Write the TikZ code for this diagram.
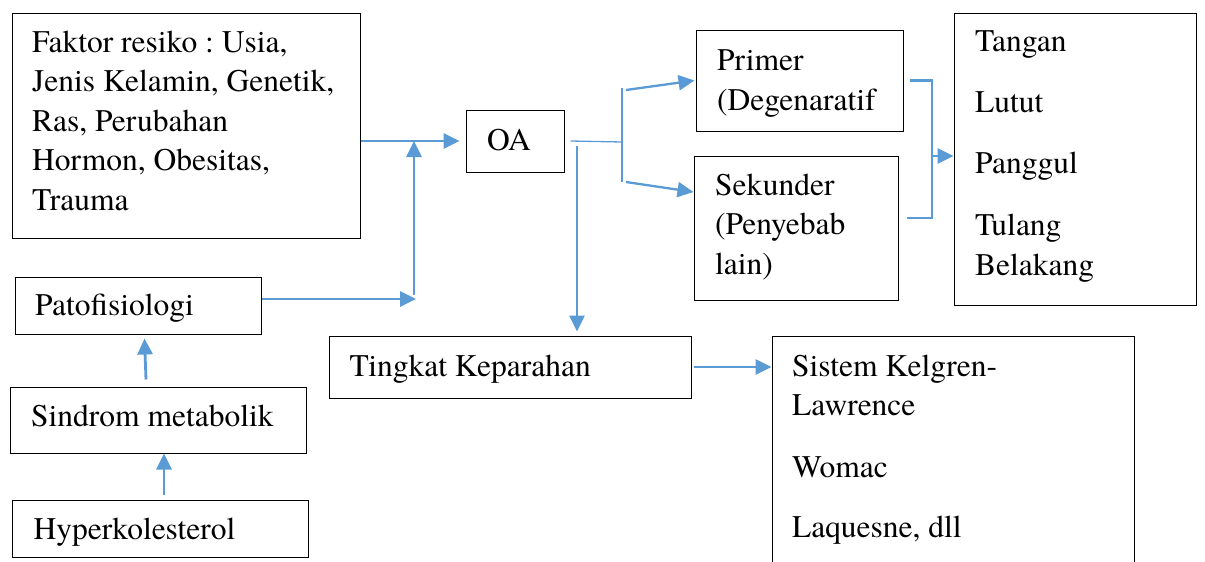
\documentclass[tikz,border=0pt]{standalone}
\usepackage{fontspec}
\setmainfont{TeX Gyre Termes}
\usetikzlibrary{arrows.meta}
\frenchspacing

\definecolor{oablue}{RGB}{91,155,213}

\tikzset{
  box/.style 2 args={draw=black, line width=1pt, inner sep=0pt, minimum width=#1, minimum height=#2},
  txt/.style={anchor=base west, inner sep=0pt, align=left, font=\rmfamily\fontsize{31.5}{39.5}\selectfont},
  flow/.style={draw=oablue, line width=2.8pt, -{Triangle[length=16pt,width=15pt]}},
  bracket/.style={draw=oablue, line width=2.8pt},
  thinline/.style={draw=oablue, line width=1.3pt}
}

\begin{document}
\begin{tikzpicture}[x=1pt,y=-1pt]
  \clip (0,0) rectangle (1205,562);

  % boxes
  \node[box={348}{225}] (risk) at (186,125.5) {};
  \node[box={98}{62}] (oa) at (515,141) {};
  \node[box={207}{101}] (primer) at (799.5,80.5) {};
  \node[box={204}{144}] (sekunder) at (796,228) {};
  \node[box={242}{292}] (tangan) at (1075,159) {};
  \node[box={246}{57}] (pato) at (138,305.5) {};
  \node[box={296}{66}] (sindrom) at (158,420) {};
  \node[box={296}{57}] (hyper) at (160,528.5) {};
  \node[box={362}{62}] (tingkat) at (510,367) {};
  \node[box={362}{264}] (kelgren) at (953,468) {};

  % texts (base = last line)
  \node[txt] (riskT) at (32,210) {Faktor resiko : Usia,\\ Jenis Kelamin, Genetik,\\ Ras, Perubahan\\ Hormon, Obesitas,\\ Trauma};
  \node[txt] (oaT) at (487,150) {OA};
  \node[txt] (primerT) at (717,110) {Primer\\ (Degenaratif};
  \node[txt] (sekunderT) at (715,274) {Sekunder\\ (Penyebab\\ lain)};
  \node[txt] (tanganT) at (975,275) {Tangan\\[21.5pt] Lutut\\[21pt] Panggul\\[23pt] Tulang\\ Belakang};
  \node[txt] (patoT) at (35,315) {Patofisiologi};
  \node[txt] (sindromT) at (31,426) {Sindrom metabolik};
  \node[txt] (hyperT) at (33.5,539) {Hyperkolesterol};
  \node[txt] (tingkatT) at (349.5,376) {Tingkat Keparahan};
  \node[txt] (kelgrenT) at (792,537) {Sistem Kelgren-\\ Lawrence\\[22pt] Womac\\[20.5pt] Laquesne, dll};

  % connectors
  \coordinate (merge) at (414,299);
  \coordinate (fork) at (622,142);
  \coordinate (drop) at (577,146);
  \coordinate (hub) at (932,156);

  \draw[flow] (risk.east |- oa.west) -- ([xshift=-6pt]oa.west);
  \draw[flow] ([yshift=6.5pt]pato.east) -- ([xshift=2pt]merge);
  \draw[flow] ([yshift=4pt]merge) -- (merge |- oa.west);

  \draw[thinline] ([xshift=6pt]oa.east) -- (fork);
  \draw[thinline] ([yshift=54pt]fork) -- ([yshift=-40pt]fork);
  \draw[flow, line width=2.3pt] ([xshift=4pt,yshift=52pt]fork) -- ([xshift=-1pt]primer.west);
  \draw[flow, line width=2.3pt] ([xshift=4pt,yshift=-40pt]fork) -- ([yshift=36pt]sekunder.west);

  \draw[flow, shorten >=4pt] (drop) -- (drop |- tingkat.north);
  \draw[flow] ([xshift=2pt]tingkat.east) -- (tingkat.east -| kelgren.west);

  \draw[bracket] ([xshift=6pt]primer.east) -| (hub);
  \draw[bracket] ([xshift=8pt,yshift=10pt]sekunder.east) -| (hub);
  \draw[flow] (hub) -- (hub -| tangan.west);

  \draw[flow] ([xshift=-12pt,yshift=7pt]sindrom.north) -- ([xshift=6.5pt,yshift=-4pt]pato.south);
  \draw[flow] ([xshift=4pt,yshift=5pt]hyper.north) -- ([xshift=6pt]sindrom.south);
\end{tikzpicture}
\end{document}
